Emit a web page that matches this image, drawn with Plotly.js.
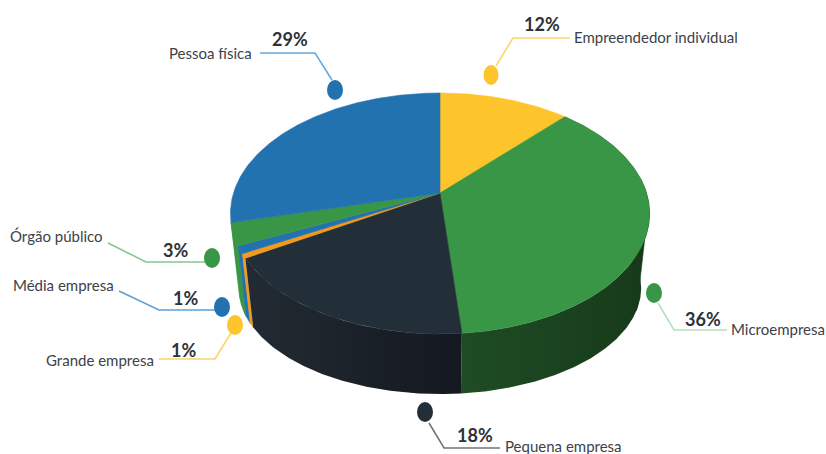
<!DOCTYPE html>
<html><head><meta charset="utf-8">
<script src="https://cdn.plot.ly/plotly-3.0.1.min.js"></script>
<style>html,body{margin:0;padding:0;background:#fff;overflow:hidden}#c{width:826px;height:454px}</style>
</head><body><div id="c"></div>
<script>
// Data, clockwise from 12 o'clock
var categories = ['Empreendedor individual','Microempresa','Pequena empresa','Grande empresa','Média empresa','Órgão público','Pessoa física'];
var values = [11.9, 36.7, 17.9, 0.6, 1.0, 3.0, 28.9];
var percentLabels = ['12%','36%','18%','1%','1%','3%','29%'];

// Styles
var topColors = ['#fdc42c','#3a9647','#232f38','#f39a1c','#2272b0','#3a9647','#2272b0'];
var wallColors = [
  ['#fdc42c','#fdc42c'],['#1f4c24','#163a1a'],['#222b33','#141820'],
  ['#f39a1c','#f39a1c'],['#2272b0','#2272b0'],['#3a9647','#3a9647'],['#2272b0','#2272b0']
];
var leaderColors = ['#fdd36a','#b9debd','#6f767c','#fdd36a','#5da0da','#86c78f','#6aa8dc'];
var dotColors = ['#fdc42c','#3a9647','#232f38','#fdc42c','#2272b0','#3a9647','#2272b0'];

// Perspective model of the disc, in page pixels
var CX=440, CY=193, R=206.5, H=117, K=0.17;
var BOTTOM_CY=270, BOTTOM_SX=0.96, BOTTOM_SY=0.88;
function rim(t, bottom){
  var u=Math.sin(t), v=-Math.cos(t), w=1-K*v;
  var x=CX+(bottom?BOTTOM_SX:1)*R*u/w;
  var y=(bottom?BOTTOM_CY:CY)+(bottom?BOTTOM_SY:1)*H*v/w;
  return [x,y];
}
var total=values.reduce(function(a,b){return a+b;},0);
var edges=[0];
values.forEach(function(v){edges.push(edges[edges.length-1]+v/total*2*Math.PI);});
function arc(a,b,bottom){
  var n=Math.max(2,Math.ceil((b-a)/0.01)),pts=[];
  for(var i=0;i<=n;i++)pts.push(rim(a+(b-a)*i/n,bottom));
  return pts;
}
var traces=[];
function addPoly(pts,color,grad){
  var tr={type:'scatter',mode:'lines',x:pts.map(function(p){return p[0];}),y:pts.map(function(p){return p[1];}),
    fill:'toself',line:{color:grad?'rgba(0,0,0,0)':color,width:grad?0:0.6},hoverinfo:'skip',showlegend:false};
  if(grad){tr.fillgradient={type:'horizontal',colorscale:[[0,grad[0]],[1,grad[1]]]};}
  else{tr.fillcolor=color;}
  traces.push(tr);
}
// Walls: only the front part of the rim is drawn, back to front
var wallOrder=[5,4,3,1,2];
wallOrder.forEach(function(i){
  var a=edges[i],b=edges[i+1],c=wallColors[i];
  var top=arc(a,b,false),bot=arc(a,b,true).reverse();
  var pts=top.concat(bot);pts.push(top[0]);
  addPoly(pts,c[0],c[0]===c[1]?null:[c[0],c[1]]);
});
// Fills the silhouette between the top rim and the bottom rim, right and left of the drum
var RIGHT_T=[1.45,1.95], LEFT_T=[edges[5]+0.02,edges[6]-0.02];
function tangentPatch(t,color){
  var top=arc(t[0],t[1],false),bot=arc(t[0],t[1],true).reverse();
  var pts=[];
  for(var j=0;j<top.length;j++){pts.push(top[j]);}
  pts.push(rim(t[1],true));pts.push(rim(t[0],true));pts.push(top[0]);
  addPoly(pts,color);
}
tangentPatch(RIGHT_T,wallColors[1][1]);
tangentPatch(LEFT_T,wallColors[5][0]);
// Top faces
values.forEach(function(v,i){
  var pts=[[CX,CY]].concat(arc(edges[i],edges[i+1],false));
  pts.push([CX,CY]);
  addPoly(pts,topColors[i]);
});

// Callouts, page pixels
var callouts=[
 {dot:[491,75,7.5,10],path:[[496,66],[513,38],[570,38]],lab:[573,37,'left'],pct:[542,24]},
 {dot:[654,293,8,10],path:[[658,303],[674,330],[727,330]],lab:[730,329,'left'],pct:[703,319]},
 {dot:[425,412,8,10],path:[[429,423],[444,448],[500,448]],lab:[504,446,'left'],pct:[475,435]},
 {dot:[235,325,8,10],path:[[231,333],[215,359],[159,359]],lab:[155,360,'right'],pct:[183,350]},
 {dot:[222,307,8,10],path:[[215,310],[159,310],[119,291]],lab:[115,285,'right'],pct:[185,298]},
 {dot:[212,258,8,10],path:[[205,262],[146,262],[108,243]],lab:[104,236,'right'],pct:[175,250]},
 {dot:[335,90,8,10],path:[[332,80],[315,53],[260,53]],lab:[253,53,'right'],pct:[290,39]}
];
var shapes=[],annotations=[];
callouts.forEach(function(c,i){
  shapes.push({type:'path',xref:'x',yref:'y',
    path:'M'+c.path.map(function(p){return p[0]+','+p[1];}).join('L'),
    line:{color:leaderColors[i],width:1.6}});
  shapes.push({type:'circle',xref:'x',yref:'y',x0:c.dot[0]-c.dot[2],x1:c.dot[0]+c.dot[2],y0:c.dot[1]-c.dot[3],y1:c.dot[1]+c.dot[3],
    fillcolor:dotColors[i],line:{width:0}});
  annotations.push({xref:'x',yref:'y',x:c.lab[0],y:c.lab[1],xanchor:c.lab[2],yanchor:'middle',showarrow:false,borderpad:0,
    text:categories[i],font:{family:'Lato,"Liberation Sans",sans-serif',size:15,color:'#3c424a'}});
  annotations.push({xref:'x',yref:'y',x:c.pct[0],y:c.pct[1],xanchor:'center',yanchor:'middle',showarrow:false,borderpad:0,
    text:'<b>'+percentLabels[i]+'</b>',font:{family:'Lato,"Liberation Sans",sans-serif',size:18,color:'#2c3238'}});
});

var layout={width:826,height:454,margin:{l:0,r:0,t:0,b:0},paper_bgcolor:'#fff',plot_bgcolor:'#fff',showlegend:false,
  xaxis:{range:[0,826],visible:false,fixedrange:true},
  yaxis:{range:[454,0],visible:false,fixedrange:true},
  shapes:shapes,annotations:annotations};
Plotly.newPlot('c',traces,layout,{displayModeBar:false,staticPlot:true});
</script></body></html>
